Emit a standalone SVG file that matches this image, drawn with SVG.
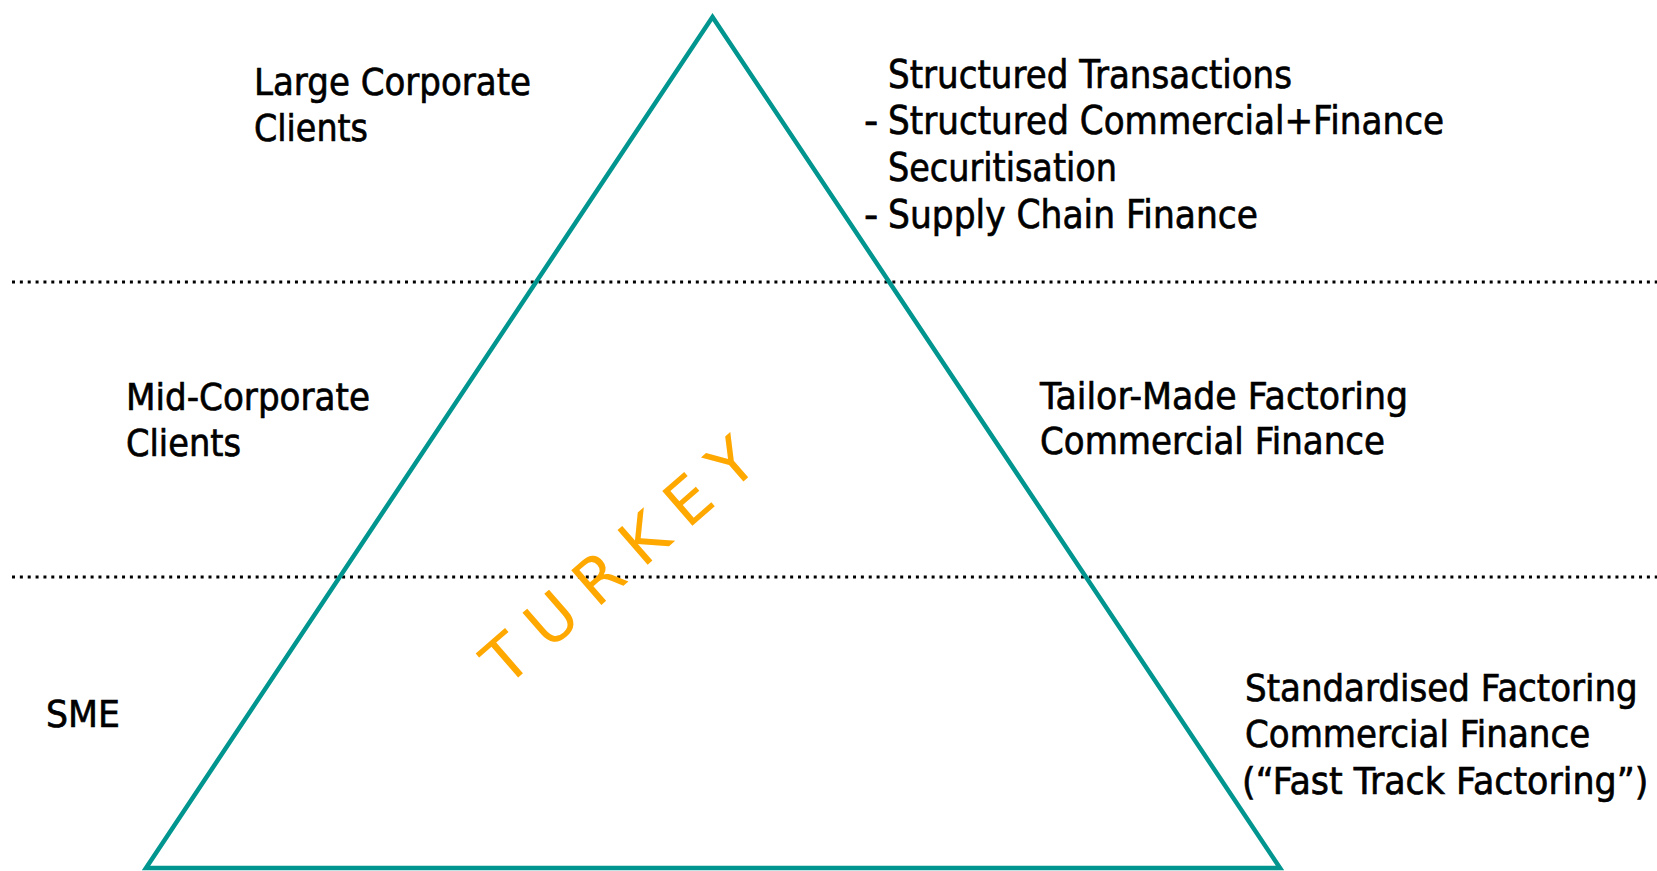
<svg xmlns="http://www.w3.org/2000/svg" width="1657" height="871" viewBox="0 0 1657 871">
  <style>
    .lbl { font-family: "DejaVu Sans", Verdana, sans-serif; font-size: 38px; fill: #000; stroke: #000; stroke-width: 0.7px; }
    .lbl.big { font-size: 39.5px; }
    .divider { stroke: #000; stroke-width: 3; stroke-dasharray: 3 4.86; fill: none; }
    .pyramid { stroke: #00968F; stroke-width: 4.5; fill: none; stroke-linejoin: miter; }
    .country { font-family: "DejaVu Sans", Verdana, sans-serif; font-size: 63px; fill: #FFA800; }
  </style>
  <rect width="1657" height="871" fill="#fff"/>

  <!-- segment separators -->
  <g id="dividers">
    <line class="divider" x1="12" y1="282" x2="1657" y2="282"/>
    <line class="divider" x1="12" y1="577" x2="1657" y2="577"/>
  </g>

  <!-- pyramid outline -->
  <g id="pyramid">
    <polygon class="pyramid" points="712.5,17 1280,868 146,868"/>
  </g>

  <g id="country-label">
    <text class="country" x="618" y="583" text-anchor="middle" textLength="337" lengthAdjust="spacing" transform="rotate(-41 618 560)">TURKEY</text>
  </g>

  <!-- client segments, left -->
  <g id="seg-large">
    <text class="lbl" x="254" y="95" textLength="277" lengthAdjust="spacingAndGlyphs">Large Corporate</text>
    <text class="lbl" x="254" y="141" textLength="114" lengthAdjust="spacingAndGlyphs">Clients</text>
  </g>
  <g id="seg-mid">
    <text class="lbl" x="126" y="410" textLength="244" lengthAdjust="spacingAndGlyphs">Mid-Corporate</text>
    <text class="lbl" x="126" y="456" textLength="115" lengthAdjust="spacingAndGlyphs">Clients</text>
  </g>
  <g id="seg-sme">
    <text class="lbl" x="46" y="727" textLength="74" lengthAdjust="spacingAndGlyphs">SME</text>
  </g>

  <!-- products, right -->
  <g id="prod-structured">
    <text class="lbl big" x="888" y="88" textLength="404" lengthAdjust="spacingAndGlyphs">Structured Transactions</text>
    <text class="lbl big" x="864" y="134">-</text>
    <text class="lbl big" x="888" y="134" textLength="556" lengthAdjust="spacingAndGlyphs">Structured Commercial+Finance</text>
    <text class="lbl big" x="888" y="181" textLength="229" lengthAdjust="spacingAndGlyphs">Securitisation</text>
    <text class="lbl big" x="864" y="228">-</text>
    <text class="lbl big" x="888" y="228" textLength="370" lengthAdjust="spacingAndGlyphs">Supply Chain Finance</text>
  </g>
  <g id="prod-tailor">
    <text class="lbl" x="1040" y="409" textLength="368" lengthAdjust="spacingAndGlyphs">Tailor-Made Factoring</text>
    <text class="lbl" x="1040" y="454" textLength="345" lengthAdjust="spacingAndGlyphs">Commercial Finance</text>
  </g>
  <!-- narrow horizontal scale keeps the block inside the right edge -->
  <g id="prod-standard" transform="translate(1245 0) scale(0.85 1)">
    <text class="lbl" x="0" y="701" textLength="462" lengthAdjust="spacingAndGlyphs">Standardised Factoring</text>
    <text class="lbl" x="0" y="747" textLength="406" lengthAdjust="spacingAndGlyphs">Commercial Finance</text>
    <text class="lbl" x="-3.5" y="794" textLength="478" lengthAdjust="spacingAndGlyphs">(“Fast Track Factoring”)</text>
  </g>
</svg>
